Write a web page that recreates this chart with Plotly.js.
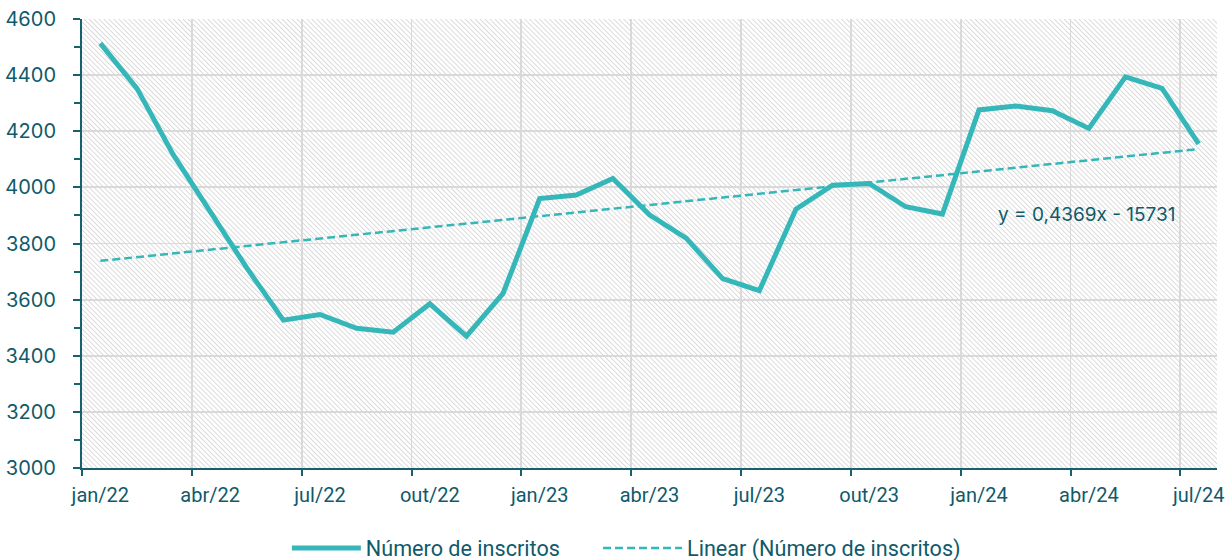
<!DOCTYPE html>
<html>
<head>
<meta charset="utf-8">
<script src="https://cdn.plot.ly/plotly-3.0.1.min.js"></script>
<style>
  html, body { margin: 0; padding: 0; background: #ffffff; }
  #chart { width: 1227px; height: 560px; }
</style>
</head>
<body>
<div id="chart"></div>
<script>
// ---- data ----
const months = ["jan/22","fev/22","mar/22","abr/22","mai/22","jun/22","jul/22","ago/22","set/22","out/22","nov/22","dez/22",
                "jan/23","fev/23","mar/23","abr/23","mai/23","jun/23","jul/23","ago/23","set/23","out/23","nov/23","dez/23",
                "jan/24","fev/24","mar/24","abr/24","mai/24","jun/24","jul/24"];
const monthYears = [2022,2022,2022,2022,2022,2022,2022,2022,2022,2022,2022,2022,
                    2023,2023,2023,2023,2023,2023,2023,2023,2023,2023,2023,2023,
                    2024,2024,2024,2024,2024,2024,2024];
const monthNums = [1,2,3,4,5,6,7,8,9,10,11,12,1,2,3,4,5,6,7,8,9,10,11,12,1,2,3,4,5,6,7];
const inscritos = [4513,4353,4115,3913,3713,3527,3547,3498,3484,3585,3470,3622,
                   3960,3973,4032,3902,3819,3675,3632,3922,4008,4014,3931,3905,
                   4276,4290,4273,4210,4394,4353,4155];
const trendSlope = 0.4369;
const trendIntercept = -15731;
const tickLabels = ["jan/22","abr/22","jul/22","out/22","jan/23","abr/23","jul/23","out/23","jan/24","abr/24","jul/24"];
const yTicks = [3000,3200,3400,3600,3800,4000,4200,4400,4600];
const seriesName = "Número de inscritos";
const trendName = "Linear (Número de inscritos)";
const equationText = "y = 0,4369x - 15731";

// ---- derived ----
const idx = months.map((m, i) => i);
const excelSerial = (y, m) => Math.round((Date.UTC(y, m - 1, 1) - Date.UTC(1899, 11, 30)) / 86400000);
const trendY = idx.map(i => trendSlope * excelSerial(monthYears[i], monthNums[i]) + trendIntercept);
const labelPos = tickLabels.map(t => months.indexOf(t));
const boundaryPos = labelPos.map(p => p - 0.5);

const lineColor = "#35b7b9";
const textColor = "#0f5a6b";
const axisColor = "#17606f";
const gridColor = "#d9d9d9";
const legendFont = { family: "Roboto, sans-serif", size: 21.6, color: textColor };

const traces = [
  {
    x: idx, y: inscritos, type: "scatter", mode: "lines", name: seriesName,
    line: { color: lineColor, width: 5 }, legend: "legend"
  },
  {
    x: idx, y: trendY, type: "scatter", mode: "lines", name: trendName,
    line: { color: lineColor, width: 2.5, dash: "8px,4px" }, legend: "legend2"
  }
];

const layout = {
  width: 1227, height: 560,
  margin: { l: 82, r: 10.4, t: 19, b: 92 },
  paper_bgcolor: "#ffffff",
  plot_bgcolor: "#fefefe",
  showlegend: true,
  legend: {
    orientation: "h", xref: "container", x: 0.2338, xanchor: "left",
    yref: "container", y: 0.058, yanchor: "top",
    font: legendFont, itemwidth: 69, bgcolor: "rgba(0,0,0,0)"
  },
  legend2: {
    orientation: "h", xref: "container", x: 0.4874, xanchor: "left",
    yref: "container", y: 0.058, yanchor: "top",
    font: legendFont, itemwidth: 79, bgcolor: "rgba(0,0,0,0)"
  },
  xaxis: {
    range: [-0.5, months.length - 0.5],
    tickmode: "array", tickvals: labelPos, ticktext: tickLabels,
    ticks: "", showgrid: false, zeroline: false,
    showline: true, linecolor: axisColor, linewidth: 2,
    tickfont: { family: "Roboto, sans-serif", size: 20, color: textColor },
    ticklabelstandoff: 8,
    minor: {
      tickmode: "array", tickvals: boundaryPos,
      ticks: "outside", ticklen: 6, tickwidth: 2, tickcolor: axisColor,
      showgrid: true, gridcolor: gridColor, gridwidth: 1.8
    }
  },
  yaxis: {
    range: [3000, 4600], tickmode: "array", tickvals: yTicks,
    ticks: "outside", ticklen: 7, tickwidth: 2, tickcolor: axisColor,
    showline: true, linecolor: axisColor, linewidth: 2,
    showgrid: true, gridcolor: gridColor, gridwidth: 1.8, zeroline: false,
    tickfont: { family: "Inter, sans-serif", size: 20, color: textColor },
    ticklabelstandoff: 13,
    minor: { dtick: 100, ticks: "outside", ticklen: 6, tickwidth: 2, tickcolor: axisColor, showgrid: false }
  },
  annotations: [{
    text: equationText, xref: "x", yref: "y", x: 26.93, y: 3905,
    showarrow: false, xanchor: "center", yanchor: "middle",
    font: { family: "Inter, sans-serif", size: 19, color: textColor }
  }]
};

function applyHatch(gd) {
  const svg = gd.querySelector("svg.main-svg");
  const ns = "http://www.w3.org/2000/svg";
  let defs = svg.querySelector("defs");
  if (!defs) { defs = document.createElementNS(ns, "defs"); svg.insertBefore(defs, svg.firstChild); }
  if (!svg.querySelector("#hatchbg")) {
    const pat = document.createElementNS(ns, "pattern");
    pat.setAttribute("id", "hatchbg");
    pat.setAttribute("patternUnits", "userSpaceOnUse");
    pat.setAttribute("width", "3.5");
    pat.setAttribute("height", "10");
    pat.setAttribute("patternTransform", "rotate(-45)");
    const bgr = document.createElementNS(ns, "rect");
    bgr.setAttribute("width", "3.5"); bgr.setAttribute("height", "10"); bgr.setAttribute("fill", "#ffffff");
    const ln = document.createElementNS(ns, "rect");
    ln.setAttribute("x", "0"); ln.setAttribute("y", "0"); ln.setAttribute("width", "0.9"); ln.setAttribute("height", "10");
    ln.setAttribute("fill", "#d8d8d8");
    pat.appendChild(bgr); pat.appendChild(ln);
    defs.appendChild(pat);
  }
  svg.querySelectorAll("rect.bg").forEach(r => { r.style.fill = "url(#hatchbg)"; r.setAttribute("fill", "url(#hatchbg)"); });
}

Plotly.newPlot("chart", traces, layout, { displayModeBar: false, staticPlot: true }).then(gd => {
  applyHatch(gd);
});
</script>
</body>
</html>
